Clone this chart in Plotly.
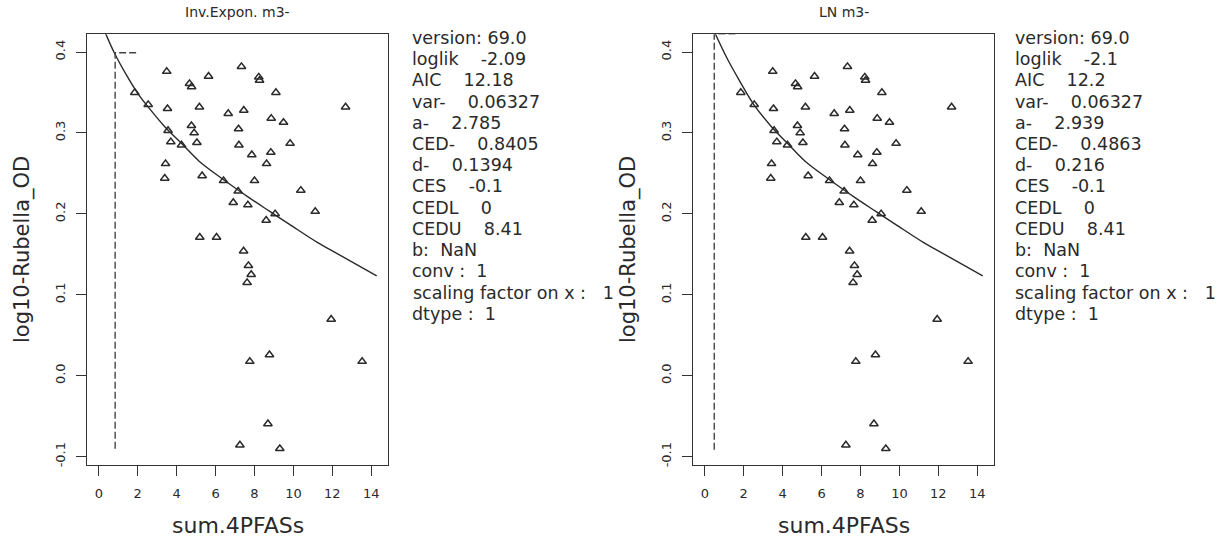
import plotly.graph_objects as go
import math

# ---------------- data ----------------
pfas = [3.49, 7.33, 5.64, 4.66, 4.77, 8.22, 8.26, 1.85, 9.10, 2.54,
        3.53, 5.17, 6.65, 7.45, 12.68, 8.86, 9.49, 4.76, 7.18, 3.56,
        4.90, 3.70, 4.25, 5.04, 7.20, 9.83, 7.86, 8.84, 3.43, 8.62,
        3.39, 5.31, 6.41, 8.00, 7.16, 10.38, 6.91, 7.66, 9.06, 11.12,
        8.60, 5.19, 6.05, 7.44, 7.69, 7.83, 7.62, 11.94, 8.77, 7.76,
        13.53, 8.69, 7.25, 9.30]
rubella = [0.376, 0.382, 0.370, 0.361, 0.357, 0.369, 0.365, 0.350, 0.350, 0.335,
           0.330, 0.332, 0.324, 0.328, 0.332, 0.318, 0.313, 0.309, 0.305, 0.303,
           0.300, 0.289, 0.285, 0.288, 0.285, 0.287, 0.273, 0.276, 0.262, 0.262,
           0.244, 0.247, 0.241, 0.241, 0.228, 0.229, 0.214, 0.211, 0.200, 0.203,
           0.192, 0.171, 0.171, 0.154, 0.136, 0.125, 0.115, 0.0697, 0.0258, 0.0176,
           0.0176, -0.0595, -0.0857, -0.0902]

# fitted curves
curve_x_invexp = [0.36, 0.81, 1.41, 2.00, 2.61, 3.38, 4.32, 5.17, 6.29, 7.74, 8.77, 9.80, 11.25, 12.02, 14.28]
curve_y_invexp = [0.4225, 0.3985, 0.372, 0.349, 0.330, 0.308, 0.2854, 0.2648, 0.2444, 0.2198, 0.2033, 0.187, 0.1644, 0.154, 0.1234]
curve_x_ln = [0.55, 1.15, 1.75, 2.52, 3.38, 4.32, 5.17, 6.29, 7.74, 8.77, 9.80, 11.25, 12.02, 14.28]
curve_y_ln = [0.422, 0.392, 0.366, 0.335, 0.309, 0.2854, 0.2648, 0.2444, 0.2198, 0.2033, 0.187, 0.1644, 0.154, 0.1234]

panel_titles = ["Inv.Expon. m3-", "LN m3-"]
a_values = [2.785, 2.939]
ced_values = [0.8405, 0.4863]
ces = -0.1
ced_hline_end = [1.92, 1.57]
dashed_bottom = -0.092

x_ticks = [0, 2, 4, 6, 8, 10, 12, 14]
x_tick_labels = ["0", "2", "4", "6", "8", "10", "12", "14"]
y_ticks = [-0.1, 0.0, 0.1, 0.2, 0.3, 0.4]
y_tick_labels = ["-0.1", "0.0", "0.1", "0.2", "0.3", "0.4"]

x_title = "sum.4PFASs"
y_title = "log10-Rubella_OD"

stats_invexp = ["version: 69.0", "loglik    -2.09", "AIC    12.18", "var-    0.06327",
                "a-    2.785", "CED-    0.8405", "d-    0.1394", "CES    -0.1",
                "CEDL    0", "CEDU    8.41", "b:  NaN", "conv :  1",
                "scaling factor on x :   1", "dtype :  1"]
stats_ln = ["version: 69.0", "loglik    -2.1", "AIC    12.2", "var-    0.06327",
            "a-    2.939", "CED-    0.4863", "d-    0.216", "CES    -0.1",
            "CEDL    0", "CEDU    8.41", "b:  NaN", "conv :  1",
            "scaling factor on x :   1", "dtype :  1"]

# ---------------- layout geometry ----------------
W, H = 1224, 539
FONT = "DejaVu Sans"
INK = "#2a2a2a"
panel_px = [(87.3, 388.0), (693.3, 994.0)]
top_px, bot_px = 34.3, 467.0
x_range = [-0.59, 14.86]
y_range = [-0.1107, 0.4221]
stats_x_px = [410.5, 1013.0]
stats_top_px, stats_step_px = 38.0, 21.3

fig = go.Figure()
curves = [(curve_x_invexp, curve_y_invexp), (curve_x_ln, curve_y_ln)]
for k in range(2):
    xa = "x" if k == 0 else "x2"
    ya = "y" if k == 0 else "y2"
    fig.add_trace(go.Scatter(
        x=pfas, y=rubella, mode="markers", xaxis=xa, yaxis=ya,
        marker=dict(symbol="triangle-up-open", size=7.5, color=INK,
                    line=dict(width=1.5, color=INK)),
        cliponaxis=True, hoverinfo="skip"))
    cx, cy = curves[k]
    fig.add_trace(go.Scatter(
        x=cx, y=cy, mode="lines", xaxis=xa, yaxis=ya,
        line=dict(color=INK, width=1.4, shape="spline"), hoverinfo="skip"))
    y_ces = math.log10(a_values[k] * (1 + ces))
    fig.add_trace(go.Scatter(
        x=[ced_hline_end[k], ced_values[k], ced_values[k]],
        y=[y_ces, y_ces, dashed_bottom], mode="lines", xaxis=xa, yaxis=ya,
        line=dict(color="#444", width=1.4, dash="7px,3px"), hoverinfo="skip"))

axis_common = dict(showline=True, mirror=True, linecolor="#333", linewidth=1.2,
                   ticks="outside", ticklen=10, tickwidth=1.2, tickcolor="#333",
                   showgrid=False, zeroline=False,
                   tickfont=dict(family=FONT, size=13, color=INK))
ydom = [1 - bot_px / H, 1 - top_px / H]
layout = dict(width=W, height=H, margin=dict(l=0, r=0, t=0, b=0, pad=0),
              plot_bgcolor="white", paper_bgcolor="white", showlegend=False,
              font=dict(family=FONT, color=INK))
for k in range(2):
    sfx = "" if k == 0 else "2"
    layout["xaxis" + sfx] = dict(axis_common, domain=[panel_px[k][0] / W, panel_px[k][1] / W],
                                 range=x_range, tickvals=x_ticks, ticktext=x_tick_labels,
                                 anchor="y" + sfx, ticklabelstandoff=6)
    layout["yaxis" + sfx] = dict(axis_common, domain=ydom, range=y_range,
                                 tickvals=y_ticks, ticktext=y_tick_labels,
                                 tickangle=-90, anchor="x" + sfx, ticklabelstandoff=6)
fig.update_layout(**layout)

ann = []
for k in range(2):
    left, right = panel_px[k]
    cxp = (left + right) / 2
    ann.append(dict(text=panel_titles[k], x=cxp / W, y=1 - 12 / H, xref="paper", yref="paper",
                    xanchor="center", yanchor="middle", showarrow=False,
                    font=dict(family=FONT, size=14, color=INK)))
    ann.append(dict(text=x_title, x=cxp / W, y=1 - 527 / H, xref="paper", yref="paper",
                    xanchor="center", yanchor="middle", showarrow=False,
                    font=dict(family=FONT, size=22, color=INK)))
    ann.append(dict(text=y_title, x=(left - 65) / W, y=1 - ((top_px + bot_px) / 2) / H,
                    xref="paper", yref="paper", textangle=-90,
                    xanchor="center", yanchor="middle", showarrow=False,
                    font=dict(family=FONT, size=21, color=INK)))
    lines = stats_invexp if k == 0 else stats_ln
    for i, t in enumerate(lines):
        ann.append(dict(text=t, x=stats_x_px[k] / W, y=1 - (stats_top_px + stats_step_px * i) / H,
                        xref="paper", yref="paper", xanchor="left", yanchor="middle",
                        showarrow=False, font=dict(family=FONT, size=17.5, color=INK)))
fig.update_layout(annotations=ann)

fig.write_html("out.html", config={"displayModeBar": False},
               post_script="document.body.style.margin='0';")
